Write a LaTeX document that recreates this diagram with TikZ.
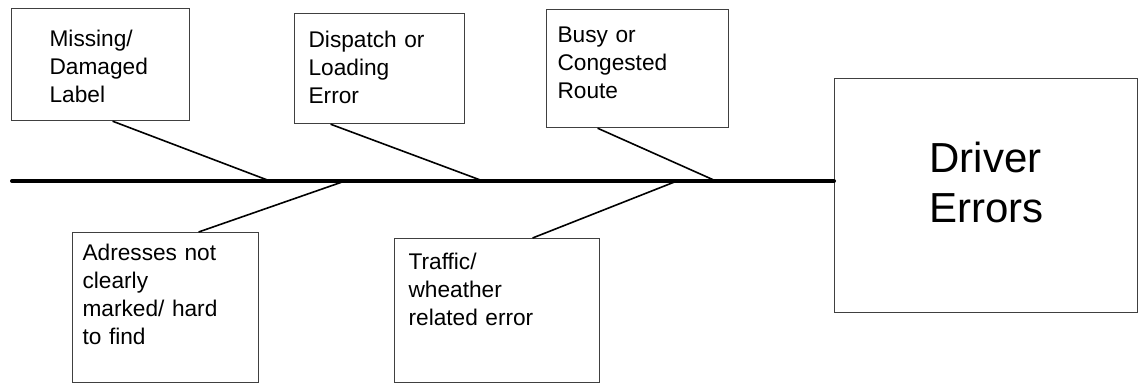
\documentclass[tikz,border=0pt]{standalone}
\usepackage{fontspec}
\setmainfont{Liberation Sans}
\usepackage{tikz}
\tikzset{%
  CauseBox/.style={draw=black!75,line width=0.9pt,anchor=north west,align=left,inner ysep=0pt,font=\fontsize{17}{21}\selectfont},
  Bone/.style={draw,line width=1.2pt},
  Spine/.style={draw,line width=3pt,line cap=round}
}

\begin{document}
\begin{tikzpicture}[x=0.75pt,y=-0.75pt]
\useasboundingbox (0,0) rectangle (1138,383);

\node (b1) [CauseBox,inner xsep=28.5pt,text width=76.5pt,text height=28.5pt,text depth=55.5pt] at (11,8) {Missing/\\Damaged\\Label};
\node (b2) [CauseBox,inner xsep=10.5pt,text width=106.5pt,text height=25.5pt,text depth=57pt] at (294,13) {Dispatch or\\Loading\\Error};
\node (b3) [CauseBox,inner xsep=8.25pt,text width=120pt,text height=24.75pt,text depth=63.75pt] at (546,9) {Busy or\\Congested\\Route};
\node (b4) [CauseBox,inner xsep=7.5pt,text width=124.5pt,text height=21pt,text depth=91.5pt] at (72,232) {Adresses not\\clearly\\marked/ hard\\to find};
\node (b5) [CauseBox,inner xsep=10.5pt,text width=132.75pt,text height=23.25pt,text depth=84.75pt] at (394,238) {Traffic/\\wheather\\related error};
\node (drv) [CauseBox,font=\fontsize{31.5}{37.5}\selectfont,inner xsep=71.25pt,text width=84.75pt,text height=70.5pt,text depth=105pt] at (834,78) {Driver\\Errors};

\coordinate (tail) at (12,181);
\coordinate (j1) at (270,181);
\coordinate (j2) at (483,181);
\coordinate (j3) at (716,181);
\coordinate (j4) at (345,181);
\coordinate (j5) at (677,181);

\draw [Spine] (tail) -- (tail -| drv.west);
\draw [Bone] ([xshift=9pt]b1.south) -- (j1);
\draw [Bone] ([xshift=-36.75pt]b2.south) -- (j2);
\draw [Bone] ([xshift=-30pt]b3.south) -- (j3);
\draw [Bone] ([xshift=24.75pt]b4.north) -- (j4);
\draw [Bone] ([xshift=26.6pt]b5.north) -- (j5);
\end{tikzpicture}
\end{document}
